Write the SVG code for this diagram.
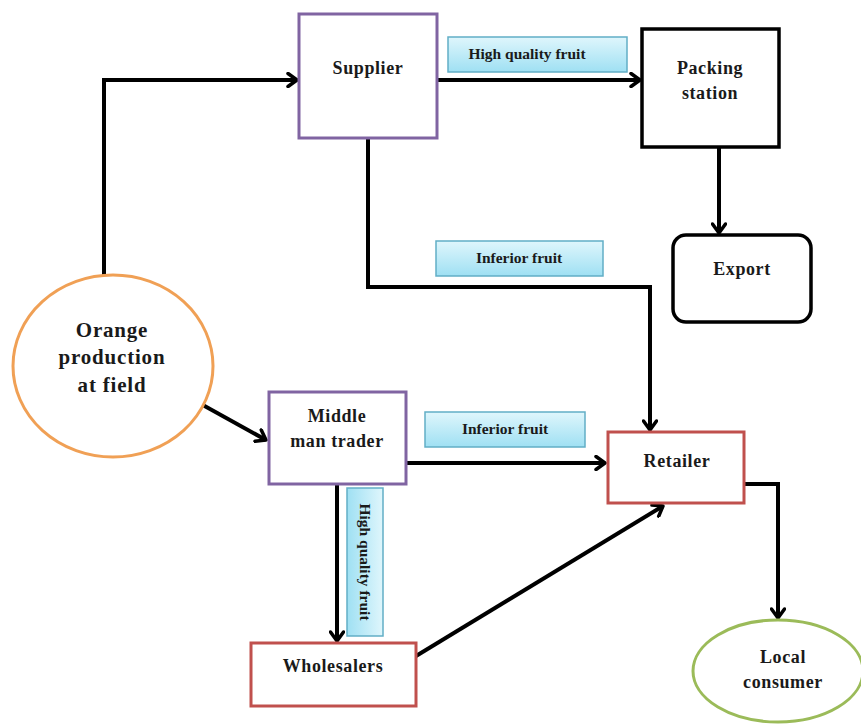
<svg xmlns="http://www.w3.org/2000/svg" width="861" height="724" viewBox="0 0 861 724">
<defs>
<marker id="ah" markerUnits="userSpaceOnUse" markerWidth="16" markerHeight="16" refX="11" refY="8" orient="auto">
<path d="M2,1.5 L11,8 L2,14.5" fill="none" stroke="#000" stroke-width="3.5" stroke-linecap="round" stroke-linejoin="round"/>
</marker>
<linearGradient id="lg" x1="0" y1="0" x2="0" y2="1">
<stop offset="0" stop-color="#dff6fc"/>
<stop offset="1" stop-color="#9fe0f3"/>
</linearGradient>
<linearGradient id="lgv" x1="0" y1="0" x2="1" y2="0">
<stop offset="0" stop-color="#9fe0f3"/>
<stop offset="1" stop-color="#dff6fc"/>
</linearGradient>
</defs>
<style>
text{font-family:'Liberation Serif',serif;font-weight:bold;fill:#1a1a1a;text-anchor:middle}
.n{font-size:18px;letter-spacing:0.6px}
.o{font-size:21px;letter-spacing:0.8px}
.l{font-size:15.5px}
.box{fill:#fff;stroke-width:3}
.pu{stroke:#8064a2}
.rd{stroke:#c0504d}
.bk{stroke:#000;stroke-width:3.5}
.lab{fill:url(#lg);stroke:#62aec6;stroke-width:1.5}
.c{fill:none;stroke:#000;stroke-width:4;marker-end:url(#ah)}
</style>
<rect width="861" height="724" fill="#fff"/>
<g id="connectors">
<path class="c" d="M104,275 V80 H297"/>
<path class="c" d="M437,80 H640"/>
<path class="c" d="M719,147 V233"/>
<path class="c" d="M368,138 V287 H650 V430"/>
<path class="c" d="M201,404 L266,440"/>
<path class="c" d="M406,463 H605"/>
<path class="c" d="M337,484 V641"/>
<path class="c" d="M416,656 L663,506"/>
<path class="c" d="M745,484 H778 V618"/>
</g>
<g font-family="Liberation Serif, serif">
<g id="label-hq1"><rect class="lab" x="448" y="37" width="179" height="35"/><text class="l" x="527" y="59">High quality fruit</text></g>
<g id="label-inf1"><rect class="lab" x="436" y="241" width="167" height="35"/><text class="l" x="519" y="263">Inferior fruit</text></g>
<g id="label-inf2"><rect class="lab" x="425" y="412" width="160" height="35"/><text class="l" x="505" y="434">Inferior fruit</text></g>
<g id="label-hq2"><rect fill="url(#lgv)" stroke="#62aec6" stroke-width="1.5" x="347" y="488" width="36" height="148"/><text class="l" transform="translate(360,562) rotate(90)" x="0" y="0">High quality fruit</text></g>
<g id="supplier"><rect class="box pu" x="299" y="14" width="138" height="124"/><text class="n" x="368" y="74">Supplier</text></g>
<g id="packing"><rect class="box bk" x="642" y="29" width="137" height="118"/><text class="n" x="710" y="74">Packing</text><text class="n" x="710" y="99">station</text></g>
<g id="export"><rect class="box bk" x="673" y="235" width="138" height="87" rx="13"/><text class="n" x="742" y="275">Export</text></g>
<g id="orange"><ellipse cx="113" cy="366" rx="100" ry="91" fill="#fff" stroke="#f0a055" stroke-width="3"/><text class="o" x="112" y="337">Orange</text><text class="o" x="112" y="364">production</text><text class="o" x="112" y="392">at field</text></g>
<g id="middleman"><rect class="box pu" x="269" y="392" width="137" height="92"/><text class="n" x="337" y="422">Middle</text><text class="n" x="337" y="447">man trader</text></g>
<g id="retailer"><rect class="box rd" x="608" y="432" width="136" height="71"/><text class="n" x="677" y="467">Retailer</text></g>
<g id="wholesalers"><rect class="box rd" x="251" y="643" width="165" height="63"/><text class="n" x="333" y="672">Wholesalers</text></g>
<g id="consumer"><ellipse cx="778" cy="671" rx="85" ry="51" fill="#fff" stroke="#9bbb59" stroke-width="3"/><text class="n" x="783" y="663">Local</text><text class="n" x="783" y="688">consumer</text></g>
</g>
</svg>
